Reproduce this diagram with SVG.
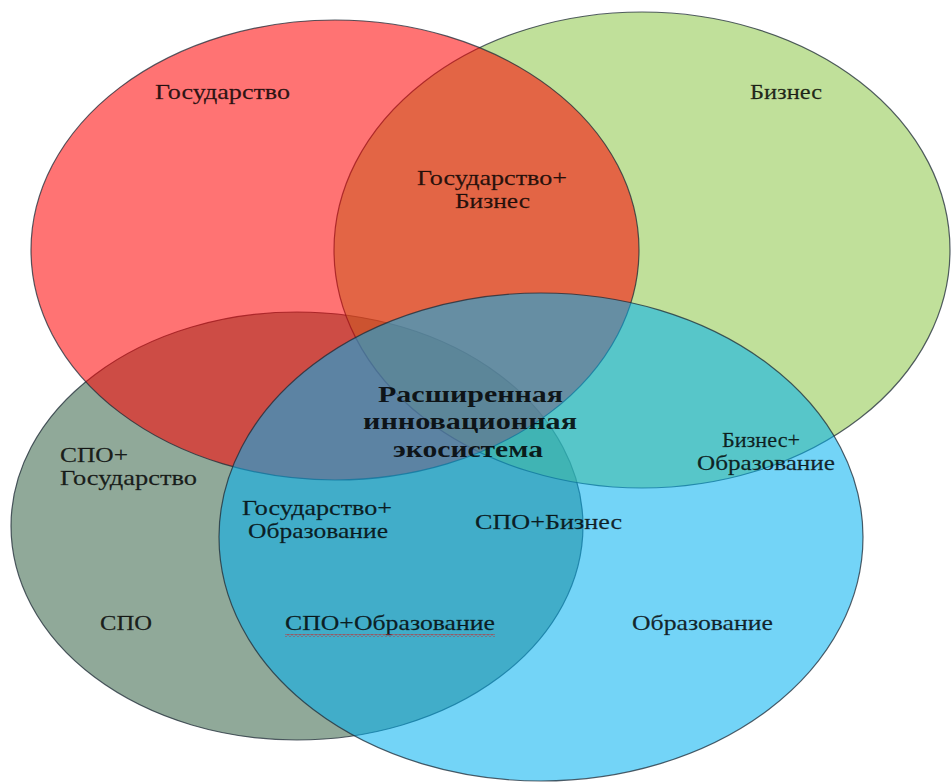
<svg xmlns="http://www.w3.org/2000/svg" width="952" height="783" viewBox="0 0 952 783">
  <style>
    .set { fill-opacity: 0.55; stroke: #1e2a36; stroke-width: 1.2; stroke-opacity: 0.75; }
    .lbl { font-family: "Liberation Serif", "Times New Roman", serif; font-size: 21px; fill: #000; fill-opacity: 0.82; stroke: #000; stroke-width: 0.3; stroke-opacity: 0.6; }
    .main { font-family: "Liberation Serif", "Times New Roman", serif; font-size: 23px; font-weight: bold; fill: #000; fill-opacity: 0.85; }
  </style>
  <defs>
    <pattern id="wave" x="0" y="0" width="4" height="3" patternUnits="userSpaceOnUse">
      <path d="M0,2.2 L2,0.6 L4,2.2" fill="none" stroke="#d02020" stroke-width="0.8"/>
    </pattern>
  </defs>
  <rect width="952" height="783" fill="#ffffff"/>

  <g id="spo">
    <ellipse class="set" cx="297" cy="526" rx="286" ry="214" fill="#346245"/>
  </g>
  <g id="biznes">
    <ellipse class="set" cx="642" cy="250" rx="308" ry="238" fill="#8CC747"/>
  </g>
  <g id="gosudarstvo">
    <ellipse class="set" cx="335" cy="250" rx="304" ry="230" fill="#FF0000"/>
  </g>
  <g id="obrazovanie">
    <ellipse class="set" cx="541" cy="537" rx="322" ry="244" fill="#00B0F0"/>
  </g>

  <g id="labels">
    <text class="lbl" x="155" y="99" textLength="135" lengthAdjust="spacingAndGlyphs">Государство</text>
    <text class="lbl" x="750" y="99" textLength="72" lengthAdjust="spacingAndGlyphs">Бизнес</text>
    <text class="lbl" x="417" y="185" textLength="150" lengthAdjust="spacingAndGlyphs">Государство+</text>
    <text class="lbl" x="455" y="208" textLength="75" lengthAdjust="spacingAndGlyphs">Бизнес</text>
    <text class="lbl" x="60" y="462" textLength="68" lengthAdjust="spacingAndGlyphs">СПО+</text>
    <text class="lbl" x="60" y="485" textLength="137" lengthAdjust="spacingAndGlyphs">Государство</text>
    <text class="lbl" x="242" y="515" textLength="150" lengthAdjust="spacingAndGlyphs">Государство+</text>
    <text class="lbl" x="248" y="538" textLength="140" lengthAdjust="spacingAndGlyphs">Образование</text>
    <text class="lbl" x="475" y="529" textLength="147" lengthAdjust="spacingAndGlyphs">СПО+Бизнес</text>
    <text class="lbl" x="722" y="447" textLength="78" lengthAdjust="spacingAndGlyphs">Бизнес+</text>
    <text class="lbl" x="697" y="470" textLength="138" lengthAdjust="spacingAndGlyphs">Образование</text>
    <text class="lbl" x="100" y="630" textLength="52" lengthAdjust="spacingAndGlyphs">СПО</text>
    <text class="lbl" x="285" y="630" textLength="210" lengthAdjust="spacingAndGlyphs">СПО+Образование</text>
    <text class="lbl" x="632" y="630" textLength="141" lengthAdjust="spacingAndGlyphs">Образование</text>
    <rect x="285" y="634" width="210" height="3" fill="url(#wave)"/>
  </g>

  <g id="center">
    <text class="main" x="378" y="402" textLength="185" lengthAdjust="spacingAndGlyphs">Расширенная</text>
    <text class="main" x="363" y="429" textLength="214" lengthAdjust="spacingAndGlyphs">инновационная</text>
    <text class="main" x="393" y="457" textLength="150" lengthAdjust="spacingAndGlyphs">экосистема</text>
  </g>
</svg>
